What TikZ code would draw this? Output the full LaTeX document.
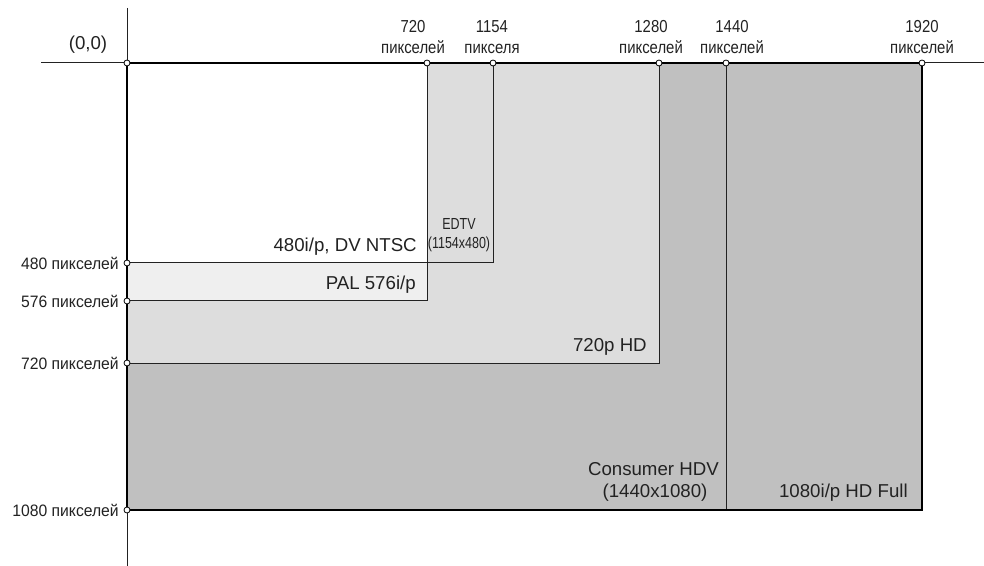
\documentclass[tikz,border=0pt]{standalone}
\usepackage{fontspec}
\setmainfont{Liberation Sans}
\usetikzlibrary{positioning}

\definecolor{hdgray}{HTML}{C0C0C0}
\definecolor{hdlight}{HTML}{DDDDDD}
\definecolor{palgray}{HTML}{EFEFEF}
\definecolor{ink}{HTML}{222222}

\begin{document}
\begin{tikzpicture}[
		x=0.75pt, y=-0.75pt,
		every node/.style={text=ink, font=\fontsize{13}{15}\selectfont},
		thinline/.style = {draw=ink, line width=0.75pt},
		thickline/.style = {draw=black, line width=1.9pt},
		dot/.style = {draw=black, fill=white, circle, inner sep=0pt, minimum size=4.5pt, line width=0.6pt},
		boxlabel/.style = {anchor=base east, inner sep=0pt, font=\fontsize{14}{16}\selectfont},
		toplabel/.style = {align=center, inner sep=0pt, font=\fontsize{13}{16}\selectfont\addfontfeatures{FakeStretch=0.86}},
		sidelabel/.style = {anchor=east, inner sep=0pt, font=\fontsize{12.4}{14}\selectfont\addfontfeatures{FakeStretch=0.95}}
		]

	\useasboundingbox (0,0) rectangle (984,566);

	% corners of the formats
	\coordinate (o) at (127,63);
	\coordinate (x720) at (427,63);
	\coordinate (x1154) at (493,63);
	\coordinate (x1280) at (659,63);
	\coordinate (x1440) at (726,63);
	\coordinate (x1920) at (922,63);
	\coordinate (y480) at (127,263);
	\coordinate (y576) at (127,301);
	\coordinate (y720) at (127,363);
	\coordinate (y1080) at (127,510);

	% fills
	\fill[hdgray] (o) rectangle (922,510);
	\fill[hdlight] (o) rectangle (659,363);
	\fill[palgray] (o) rectangle (427,301);
	\fill[white] (o) rectangle (427,263);

	% outlines
	\draw[thinline] (y480) -| (x1154);
	\draw[thinline] (y480) -- (427,263);
	\draw[thinline] (y576) -| (x720);
	\draw[thinline] (y720) -| (x1280);
	\draw[thinline] (x1440) -- (726,510);

	% axes
	\draw[thinline] (127,8) -- (127,566);
	\draw[thinline] (41,63) -- (984,63);
	\draw[thickline] (y1080) -- (o) -- (x1920) -- (922,510) -- cycle;

	% labels inside
	\node[boxlabel] (ntsc) at (417,252) {480i/p, DV NTSC};
	\node[boxlabel] (pal) at (416,290) {PAL 576i/p};
	\node[align=center, inner sep=0pt, font=\fontsize{12}{14.5}\selectfont\addfontfeatures{FakeStretch=0.78}] (edtv) at (459,235) {EDTV\\(1154x480)};
	\node[boxlabel] (hd720) at (647,351) {720p HD};
	\node[boxlabel] (hdv) at (719,475) {Consumer HDV};
	\node[anchor=base, inner sep=0pt, font=\fontsize{14}{16}\selectfont] (hdvsize) at (655,497) {(1440x1080)};
	\node[boxlabel] (full) at (908,497) {1080i/p HD Full};

	% labels on the axes
	\node[font=\fontsize{14}{16}\selectfont, inner sep=0pt] (origin) at (88,45) {(0,0)};
	\node[toplabel] (t720) at (413,37) {720\\пикселей};
	\node[toplabel] (t1154) at (492,37) {1154\\пикселя};
	\node[toplabel] (t1280) at (651,37) {1280\\пикселей};
	\node[toplabel] (t1440) at (732,37) {1440\\пикселей};
	\node[toplabel] (t1920) at (922,37) {1920\\пикселей};
	\node[sidelabel] (l480) at (119,263) {480 пикселей};
	\node[sidelabel] (l576) at (119,301) {576 пикселей};
	\node[sidelabel] (l720) at (119,363) {720 пикселей};
	\node[sidelabel] (l1080) at (119,510) {1080 пикселей};

	% dots
	\foreach \p in {o,x720,x1154,x1280,x1440,x1920,y480,y576,y720,y1080}
		\node[dot] at (\p) {};
\end{tikzpicture}
\end{document}
